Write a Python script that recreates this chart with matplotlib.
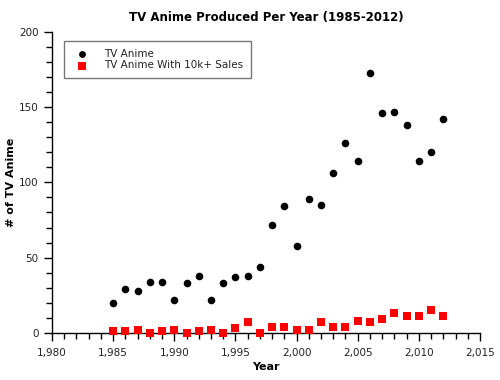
import matplotlib
matplotlib.use("Agg")
import matplotlib.pyplot as plt
from matplotlib.ticker import MultipleLocator, FuncFormatter

years = list(range(1985, 2013))
tv_anime = [20, 29, 28, 34, 34, 22, 33, 38, 22, 33, 37, 38, 44, 72, 84, 58,
            89, 85, 106, 126, 114, 173, 146, 147, 138, 114, 120, 142]
tv_anime_10k = [1, 1, 2, 0, 1, 2, 0, 1, 2, 0, 3, 7, 0, 4, 4, 2,
                2, 7, 4, 4, 8, 7, 9, 13, 11, 11, 15, 11]

plt.rcParams['font.family'] = ['DejaVu Sans']
fig = plt.figure(figsize=(5, 3.8), dpi=100)
ax = fig.add_axes([0.104, 0.124, 0.856, 0.792])

ax.scatter(years, tv_anime, s=30, c='black', marker='o', label='TV Anime',
           zorder=3, clip_on=False, linewidths=0)
ax.scatter(years, tv_anime_10k, s=38, c='#ff0000', marker='s',
           label='TV Anime With 10k+ Sales', zorder=3, clip_on=False, linewidths=0)

ax.set_xlim(1980, 2015)
ax.set_ylim(0, 200)
ax.xaxis.set_major_locator(MultipleLocator(5))
ax.xaxis.set_minor_locator(MultipleLocator(1))
ax.yaxis.set_major_locator(MultipleLocator(50))
ax.yaxis.set_minor_locator(MultipleLocator(10))
ax.xaxis.set_major_formatter(FuncFormatter(lambda v, p: f"{int(v):,}"))

for s in ['top', 'right']:
    ax.spines[s].set_visible(False)
for s in ['left', 'bottom']:
    ax.spines[s].set_linewidth(1.0)

ax.tick_params(which='major', direction='out', length=6, width=1, labelsize=7.5,
               labelcolor='#222222')
ax.tick_params(axis='x', which='major', pad=5)
ax.tick_params(which='minor', direction='out', length=4, width=1)

ax.set_title('TV Anime Produced Per Year (1985-2012)', fontsize=8.5,
             fontweight='bold', pad=8)
ax.set_xlabel('Year', fontsize=8, fontweight='bold', labelpad=3)
ax.set_ylabel('# of TV Anime', fontsize=8, fontweight='bold', labelpad=2)

leg = ax.legend(loc='upper left', bbox_to_anchor=(0.028, 0.97), fontsize=7.5,
                frameon=True, fancybox=False, edgecolor='#555555',
                borderpad=0.75, handletextpad=1.1, labelspacing=0.15,
                borderaxespad=0, markerscale=0.9, handlelength=2.0)
leg.get_frame().set_linewidth(1.0)
for t in leg.get_texts():
    t.set_color('#222222')

fig.savefig('out.png', dpi=100)
